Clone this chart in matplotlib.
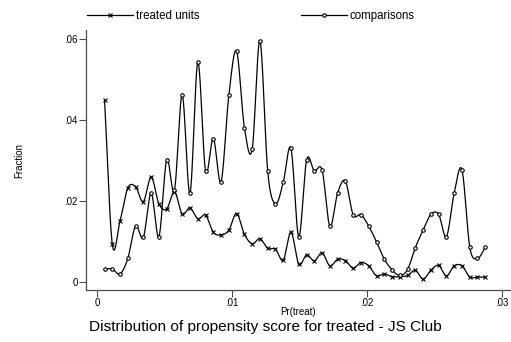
import numpy as np
import matplotlib
matplotlib.use('Agg')
from matplotlib import pyplot as plt
from matplotlib.lines import Line2D

plt.rcParams['font.family'] = ['Liberation Sans', 'DejaVu Sans']

# propensity score bins
pscore = [0.00056, 0.00113, 0.00171, 0.00228, 0.00286, 0.00343, 0.00401, 0.00459,
          0.00516, 0.00574, 0.00631, 0.00689, 0.00747, 0.00804, 0.00862, 0.00919,
          0.00977, 0.01034, 0.01092, 0.01150, 0.01207, 0.01265, 0.01322, 0.01380,
          0.01437, 0.01495, 0.01553, 0.01610, 0.01668, 0.01725, 0.01783, 0.01840,
          0.01898, 0.01956, 0.02013, 0.02071, 0.02128, 0.02186, 0.02244, 0.02301,
          0.02359, 0.02416, 0.02474, 0.02531, 0.02589, 0.02647, 0.02704, 0.02762,
          0.02819, 0.02877]

treated = [0.0448, 0.0094, 0.0151, 0.0232, 0.0235, 0.0198, 0.0259, 0.0193,
           0.0180, 0.0223, 0.0168, 0.0183, 0.0156, 0.0165, 0.0123, 0.0116,
           0.0128, 0.0169, 0.0118, 0.0094, 0.0107, 0.0083, 0.0081, 0.0054,
           0.0123, 0.0044, 0.0067, 0.0052, 0.0072, 0.0040, 0.0056, 0.0053,
           0.0034, 0.0048, 0.0040, 0.0015, 0.0020, 0.0013, 0.0013, 0.0016,
           0.0029, 0.0007, 0.0029, 0.0041, 0.0015, 0.0040, 0.0040, 0.0012,
           0.0012, 0.0012]

comparisons = [0.0032, 0.0032, 0.0020, 0.0058, 0.0138, 0.0110, 0.0219, 0.0112,
               0.0301, 0.0227, 0.0462, 0.0219, 0.0542, 0.0275, 0.0354, 0.0247,
               0.0461, 0.0570, 0.0381, 0.0328, 0.0596, 0.0273, 0.0193, 0.0246,
               0.0330, 0.0112, 0.0301, 0.0274, 0.0276, 0.0138, 0.0220, 0.0249,
               0.0166, 0.0166, 0.0138, 0.0099, 0.0057, 0.0030, 0.0016, 0.0031,
               0.0085, 0.0128, 0.0167, 0.0167, 0.0112, 0.0220, 0.0277, 0.0086,
               0.0058, 0.0086]

xticks = [0, 0.01, 0.02, 0.03]
xticklabels = ['0', '.01', '.02', '.03']
yticks = [0, 0.02, 0.04, 0.06]
yticklabels = ['0', '.02', '.04', '.06']


def smooth(x, y, n=24):
    # Catmull-Rom style cubic curve through the points (Stata connect(s) look)
    x = np.asarray(x)
    y = np.asarray(y)
    m = np.zeros_like(y)
    m[1:-1] = (y[2:] - y[:-2]) / (x[2:] - x[:-2])
    m[0] = (y[1] - y[0]) / (x[1] - x[0])
    m[-1] = (y[-1] - y[-2]) / (x[-1] - x[-2])
    xs, ys = [], []
    for i in range(len(x) - 1):
        h = x[i + 1] - x[i]
        t = np.linspace(0, 1, n, endpoint=False)
        h00 = 2 * t**3 - 3 * t**2 + 1
        h10 = t**3 - 2 * t**2 + t
        h01 = -2 * t**3 + 3 * t**2
        h11 = t**3 - t**2
        xs.extend(x[i] + t * h)
        ys.extend(h00 * y[i] + h10 * h * m[i] + h01 * y[i + 1] + h11 * h * m[i + 1])
    xs.append(x[-1])
    ys.append(y[-1])
    return xs, ys


fig = plt.figure(figsize=(5.11, 3.42), dpi=100)
ax = fig.add_axes([86 / 511, 1 - 290 / 342, 424 / 511, 260 / 342])

for vals, mk, ms in [(treated, 'x', 3.5), (comparisons, 'o', 2.5)]:
    sx, sy = smooth(pscore, vals)
    ax.plot(sx, sy, color='black', lw=0.9)
    ax.plot(pscore, vals, ls='none', marker=mk, ms=ms, mew=0.8,
            mfc='white' if mk == 'o' else 'black', mec='black')

ax.set_xlim(-0.000815, 0.0306)
ax.set_ylim(-0.00198, 0.0622)
ax.set_xticks(xticks)
ax.set_xticklabels(xticklabels)
ax.set_yticks(yticks)
ax.set_yticklabels(yticklabels)
ax.tick_params(direction='out', length=5, width=0.8, labelsize=7, pad=1, color='0.3')
for s in ['top', 'right']:
    ax.spines[s].set_visible(False)
for s in ['left', 'bottom']:
    ax.spines[s].set_color('0.3')
    ax.spines[s].set_linewidth(0.9)

ax.set_xlabel('Pr(treat)', fontsize=7, labelpad=-1)
ax.set_ylabel('Fraction', fontsize=7, labelpad=29)
fig.text(265 / 511, 1 - 327 / 342,
         'Distribution of propensity score for treated - JS Club',
         ha='center', va='center', fontsize=11.1)

handles = [Line2D([], [], color='black', lw=0.9, marker='x', ms=3.5, mew=0.8),
           Line2D([], [], color='black', lw=0.9, marker='o', ms=2.5, mew=0.8, mfc='white')]
leg = fig.legend(handles, ['treated units', 'comparisons'], ncol=2,
                 loc='center left', bbox_to_anchor=(87 / 511, 1 - 16 / 342),
                 frameon=False, fontsize=8.3, handlelength=4.0, handletextpad=0.25,
                 columnspacing=8.8, borderaxespad=0, borderpad=0)

fig.savefig('out.png', dpi=100)
